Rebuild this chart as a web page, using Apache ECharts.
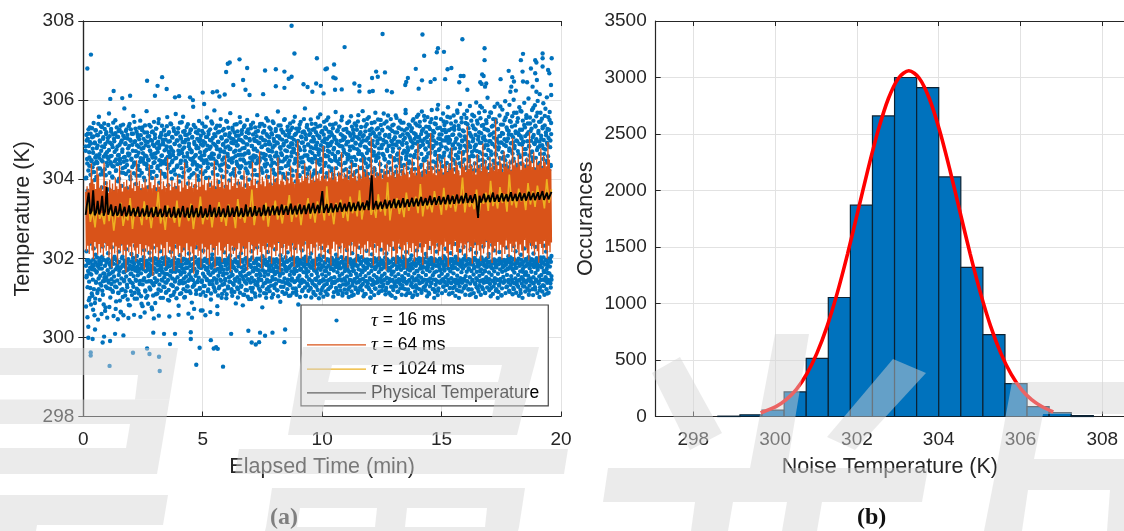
<!DOCTYPE html>
<html><head><meta charset="utf-8">
<style>html,body{margin:0;padding:0;background:#fff}#c{width:1124px;height:531px}</style>
<script src="https://cdn.jsdelivr.net/npm/echarts@6/dist/echarts.min.js"></script>
</head><body><div id="c"></div>
<script>
// ----- panel (a): temperatures are stored as hundredths of a kelvin above 298 K, in time order -----
const temps16 = [
672,381,604,352,698,395,640,327,715,368,622,388,684,341,655,300,731,376,611,392,
690,359,648,311,706,384,630,346,667,397,742,322,618,371,693,287,655,390,724,338,
606,364,679,402,641,318,711,379,627,349,758,393,663,295,695,356,612,385,734,331,
648,374,683,404,620,308,702,362,657,396,741,343,625,381,689,276,610,352,719,389,
668,325,634,370,704,398,651,339,766,361,616,384,692,301,643,377,727,347,659,393,
607,318,681,366,713,386,632,354,696,404,645,329,749,372,621,291,675,395,708,344,
638,380,660,313,722,358,601,391,687,336,652,375,735,263,617,349,698,400,669,322,
628,384,710,365,644,342,779,394,656,306,691,378,613,354,726,388,636,327,703,371,
665,398,620,282,684,345,740,382,607,360,697,317,649,392,715,373,631,337,672,401,
760,355,615,386,694,298,642,369,728,346,658,394,609,323,686,379,713,357,634,390,
667,311,701,374,623,343,748,396,653,362,690,285,616,383,731,334,645,372,679,403,
604,350,718,389,660,319,696,367,639,341,772,393,626,305,708,378,650,355,683,386,
737,326,612,399,671,368,699,342,631,381,719,271,655,361,688,394,619,332,745,375,
643,350,704,387,665,309,728,366,608,397,678,344,633,382,695,321,752,371,648,358,
686,391,621,300,711,377,659,346,735,400,614,364,692,328,640,385,723,352,673,394,
606,339,700,373,652,315,683,389,757,360,627,345,714,398,669,293,636,380,696,356,
741,368,618,333,675,392,707,349,647,384,661,308,729,375,624,401,689,341,612,366,
765,388,654,323,698,379,635,352,718,396,672,280,609,368,685,342,743,391,641,359,
703,312,628,384,666,374,694,337,758,399,617,349,680,365,722,302,646,387,699,354,
633,395,712,329,657,376,739,343,622,390,690,360,604,317,676,381,724,352,650,398,
668,288,705,369,637,345,783,386,615,332,694,374,643,403,731,356,661,310,684,392,
625,367,716,340,608,383,679,351,747,397,654,323,701,376,632,268,688,388,659,344,
722,394,613,361,696,330,641,380,733,354,670,399,620,305,707,372,648,348,756,389,
685,317,630,367,714,395,604,342,677,384,726,358,652,296,698,376,637,401,741,334,
618,364,690,387,663,350,774,320,628,392,709,369,645,346,682,399,735,279,611,373,
695,356,656,388,720,328,634,365,675,394,752,343,622,379,703,310,649,390,687,357,
606,371,727,335,668,396,640,348,713,382,696,299,619,362,745,387,658,324,683,400,
631,352,708,376,676,341,767,393,612,366,692,315,644,384,730,358,653,391,701,333,
625,375,718,347,609,398,672,286,695,369,739,389,638,352,686,322,661,380,710,404,
617,345,757,363,650,395,699,328,633,377,724,354,678,391,604,308,693,368,646,382,
736,341,665,399,627,356,705,374,688,319,750,393,615,347,671,385,716,297,642,362,
698,396,632,339,729,378,655,351,684,402,611,325,743,367,660,388,702,344,623,376,
677,303,719,392,640,358,696,371,762,331,648,384,610,349,691,399,733,362,654,318,
705,381,628,345,681,394,740,276,616,370,699,388,664,336,722,355,637,397,687,366,
649,311,754,383,620,346,710,391,675,359,606,327,695,378,731,400,658,342,688,368,
634,385,716,301,670,353,746,394,624,374,702,332,642,389,685,360,612,347,727,381,
659,398,693,319,638,365,771,376,650,344,708,393,617,356,681,290,736,384,666,371,
628,341,700,396,645,362,719,328,690,387,605,349,752,379,673,403,633,312,696,368,
656,391,724,345,614,374,683,335,707,395,647,358,741,306,625,382,691,367,668,349,
730,398,609,324,678,386,700,361,640,375,758,342,652,392,715,317,621,368,686,401,
663,350,697,283,634,383,729,356,610,396,674,339,745,372,643,388,706,346,655,320,
693,399,618,365,721,379,682,341,779,390,627,304,704,373,660,354,737,396,613,332,
688,367,651,385,712,347,630,402,670,325,751,376,696,358,607,391,643,336,725,381,
678,311,701,369,622,394,659,348,740,386,685,328,616,363,692,399,733,354,648,375,
668,299,708,387,637,342,764,371,652,395,719,320,625,359,696,382,604,347,680,404,
745,332,661,368,703,389,641,355,727,376,615,309,690,397,672,344,756,381,632,361,
708,392,649,326,686,373,719,350,620,398,695,337,664,385,738,303,611,369,679,352,
702,394,654,341,770,378,628,387,691,318,645,365,724,399,668,346,612,383,733,356,
684,329,697,375,636,391,749,344,659,361,710,312,622,396,675,380,702,349,641,368,
726,385,607,333,688,401,663,354,742,372,650,321,695,390,618,366,716,345,673,398,
630,358,759,384,644,305,699,377,683,340,725,393,611,369,656,347,708,387,636,326,
690,361,735,399,621,352,676,381,746,318,664,372,702,394,605,344,687,358,719,386,
648,331,694,403,629,365,772,348,657,380,711,397,620,310,682,371,733,355,640,389,
698,342,666,376,753,395,613,327,705,362,651,384,724,350,635,301,689,396,674,368,
742,379,618,345,697,388,660,334,716,357,628,400,683,373,768,323,646,391,708,352,
612,381,691,340,729,398,655,365,678,316,703,383,637,349,750,394,621,372,686,356,
725,328,664,390,699,344,607,377,741,361,650,402,712,319,632,385,693,351,675,396,
618,338,761,369,643,388,706,348,685,374,727,308,657,392,624,359,696,380,736,343,
670,399,613,366,701,329,648,384,718,354,688,395,632,341,755,373,662,315,695,389,
609,360,730,347,678,398,641,382,709,334,654,371,743,392,620,355,687,404,666,324,
699,376,636,349,723,387,604,363,775,396,651,340,691,378,715,312,628,393,674,358,
738,384,644,345,706,369,660,399,617,331,696,386,729,352,683,375,639,306,752,391,
658,362,702,344,625,397,714,381,671,349,690,325,736,368,612,388,653,356,707,400,
681,337,745,374,631,393,698,351,664,319,722,384,609,365,687,396,647,344,760,377,
702,329,620,390,675,358,733,402,656,371,694,345,616,382,711,313,640,396,683,367,
727,349,667,386,699,338,752,394,628,375,708,357,645,389,684,322,718,364,605,398,
662,346,739,381,692,367,634,342,777,393,651,318,703,385,620,355,676,399,730,372,
689,339,644,387,713,361,655,394,698,347,612,328,746,380,667,369,725,401,631,352,
680,385,706,333,641,396,758,358,616,374,692,342,724,389,658,311,699,367,636,393,
741,350,675,381,609,398,686,325,713,362,648,386,734,345,625,376,694,404,661,337,
703,391,619,356,768,372,653,344,688,397,727,317,640,383,679,350,710,392,632,365,
744,339,696,388,664,374,607,348,721,399,650,328,685,381,701,355,628,394,755,366,
672,342,739,386,614,321,693,375,646,397,717,352,681,389,633,309,708,368,659,392,
763,345,696,384,622,359,729,375,674,401,640,335,712,396,687,350,605,366,748,388,
657,323,700,379,631,394,719,356,668,342,785,385,616,372,692,398,735,327,649,361,
704,391,626,346,679,383,727,369,644,312,698,395,661,352,742,378,610,388,686,340,
723,403,653,364,696,347,636,380,769,392,670,325,714,358,620,386,689,374,735,343,
647,396,705,367,629,350,682,389,751,318,662,377,698,394,613,345,726,361,675,385,
640,331,709,399,654,372,784,348,693,387,622,306,717,366,668,395,738,353,634,380,
687,341,701,392,648,369,756,384,611,327,696,358,725,396,659,374,630,345,713,390,
678,315,747,379,642,402,691,355,619,388,733,340,665,371,706,397,652,322,768,364,
684,385,627,349,721,393,698,376,636,333,745,389,671,358,607,399,712,344,689,381,
656,367,773,312,640,396,703,352,725,384,618,373,694,347,663,391,737,329,676,358,
709,398,632,365,755,381,648,343,696,387,621,356,719,403,684,318,660,375,741,393,
605,349,697,366,728,384,670,338,646,395,780,352,712,378,625,390,689,327,735,363,
654,346,701,400,617,386,768,371,680,341,722,393,638,354,695,319,664,381,746,397,
710,358,629,377,686,346,733,389,651,402,699,330,614,365,760,384,675,352,718,396,
642,373,692,311,727,388,658,345,704,399,622,362,750,379,681,337,636,391,714,355
];
// second pass over the same span: the outer parts of the cloud, widening with time on the warm side
const temps16outer = [
683,278,712,356,651,251,702,389,726,294,668,362,694,325,715,283,646,377,729,305,
677,270,708,381,639,256,691,298,723,341,660,367,712,312,685,245,740,322,654,374,
698,336,719,391,672,259,732,318,645,342,706,283,681,351,727,267,663,329,714,394,
642,250,695,344,737,359,674,277,709,323,658,362,720,335,688,388,633,315,743,254,
702,341,669,399,716,272,650,327,731,385,683,246,707,312,661,368,725,293,640,265,
693,320,718,380,675,302,738,256,655,345,704,389,689,317,722,369,647,333,712,296,
678,249,734,374,664,281,700,340,726,362,652,307,687,391,715,328,636,257,745,313,
696,375,671,343,720,298,659,367,707,319,682,386,730,335,644,252,711,304,677,376,
724,279,666,345,702,393,639,263,736,316,686,300,658,381,718,371,694,285,648,342,
709,358,673,321,733,395,662,276,697,337,721,306,641,248,684,373,713,287,654,340,
728,368,691,311,669,397,742,255,679,334,706,382,637,318,717,374,660,344,700,300,
688,389,725,327,646,361,711,313,676,339,734,378,656,295,695,320,719,253,665,391,
681,305,739,384,643,366,705,330,670,392,722,315,690,346,653,370,714,299,631,324,
698,387,729,257,663,336,685,310,708,380,647,343,744,394,675,365,720,322,657,301,
693,339,712,375,638,317,732,388,666,329,701,260,683,345,716,397,651,312,726,383,
672,250,707,328,645,374,737,272,689,337,659,390,719,319,678,363,702,342,634,396,
724,378,696,325,668,308,710,384,649,340,741,268,685,314,716,393,661,330,692,256,
733,372,674,345,707,376,640,321,721,389,656,335,699,264,682,311,746,398,665,343,
704,382,652,327,714,370,687,316,729,394,644,338,676,259,718,306,694,324,660,385,
735,346,670,379,706,300,637,333,723,391,689,362,655,318,712,344,680,387,747,309,
698,373,664,329,730,397,648,341,716,384,677,355,703,322,642,305,725,337,691,378,
669,315,738,392,658,343,710,369,685,326,721,301,633,386,700,339,673,313,744,358,
662,331,715,395,696,281,650,347,732,308,679,372,707,320,640,336,719,390,688,303,
726,361,666,344,702,383,654,325,737,297,684,316,646,368,713,342,675,388,697,311,
731,334,658,375,709,399,671,340,722,384,643,323,692,306,740,357,665,345,705,379,
683,329,718,393,654,312,735,364,698,338,661,300,714,322,639,385,748,341,689,370,
706,317,672,395,727,331,650,383,713,346,680,309,742,366,696,325,658,392,722,336,
667,378,709,319,691,304,736,389,645,343,703,361,677,328,725,398,661,315,718,341,
686,384,750,310,652,371,711,337,697,393,671,322,733,346,641,305,716,376,682,332,
724,399,658,344,705,387,689,313,746,367,676,340,712,396,647,324,728,308,695,381,
663,345,721,391,680,330,738,302,654,374,708,338,692,317,719,385,643,342,752,397,
673,326,714,305,701,363,732,336,660,394,687,318,725,346,648,380,716,323,681,301,
740,342,666,389,707,315,695,372,728,332,652,307,719,345,677,396,711,320,756,384,
662,337,704,399,735,311,686,342,647,378,722,326,673,303,713,344,694,390,731,316,
658,367,749,335,702,308,683,322,720,395,669,346,738,383,691,329,646,401,712,340,
729,393,675,314,707,338,659,382,741,325,698,399,721,344,668,310,687,375,733,331,
651,319,714,346,683,390,758,306,699,334,725,385,668,321,706,343,642,396,727,312,
694,378,719,337,661,302,746,327,682,345,710,389,655,316,733,332,701,368,716,308,
678,344,741,395,692,322,649,338,725,381,706,313,762,340,671,399,714,326,685,346,
732,391,663,319,708,335,698,304,749,376,652,343,721,310,680,329,739,397,703,337,
674,385,757,322,691,346,713,300,646,315,728,333,687,392,719,341,669,307,744,324,
708,378,660,338,726,396,697,344,751,312,665,387,715,329,703,373,737,340,679,318,
723,394,688,333,766,383,652,346,710,309,695,325,746,398,671,337,731,376,684,313,
712,342,659,391,752,328,697,305,722,345,678,320,738,386,653,336,706,300,761,329,
686,343,718,379,665,316,730,339,695,397,748,324,650,345,726,308,691,331,713,384,
743,341,672,398,704,322,767,307,658,336,728,385,681,321,712,343,645,396,735,312,
699,378,722,337,680,302,748,327,691,345,716,389,662,316,741,332,708,368,758,308,
672,344,763,395,705,322,734,338,684,381,714,313,771,340,696,399,727,326,652,346,
749,391,678,319,718,335,706,304,757,376,665,343,732,310,689,329,744,397,712,337,
775,385,683,322,722,346,698,300,741,315,669,333,755,392,690,341,729,307,788,324,
674,378,713,338,702,396,752,344,683,312,724,387,766,329,659,373,737,340,698,318,
719,394,744,333,675,383,782,346,707,309,693,325,756,398,666,337,728,376,712,313,
688,342,761,391,725,328,678,305,746,345,702,320,774,386,657,336,735,300,713,329,
790,343,684,379,755,316,698,339,723,397,669,324,764,345,708,308,742,331,681,384,
773,341,694,398,729,322,656,307,785,336,712,385,748,321,669,343,736,396,702,312,
759,378,683,337,726,302,794,327,671,345,741,389,708,316,768,332,692,368,754,308,
716,344,781,395,663,322,737,338,701,381,772,313,686,340,749,399,725,326,806,346,
674,391,758,319,711,335,696,304,768,376,733,343,689,310,752,329,718,397,783,337,
665,385,744,322,702,346,791,300,727,315,681,333,761,392,709,341,738,307,692,324,
776,378,715,338,656,396,749,344,797,312,684,387,731,329,765,373,703,340,722,318,
788,394,673,333,745,383,712,346,759,309,693,325,801,398,678,337,736,376,717,313,
768,342,696,391,754,328,663,305,782,345,725,320,709,386,771,336,687,300,748,329,
695,343,793,379,731,316,676,339,762,397,714,324,741,345,804,308,683,331,756,384,
722,341,668,398,775,322,706,307,748,336,691,385,787,321,733,343,759,396,674,312,
798,378,717,337,745,302,684,327,768,345,702,389,753,316,729,332,792,368,664,308,
736,344,778,395,711,322,807,338,687,381,757,313,725,340,770,399,698,326,742,346
];
// third pass: points hugging the orange band on both sides
const temps16inner = [
602,418,571,395,634,437,586,372,618,425,598,409,645,384,563,446,627,401,579,430,
612,361,590,442,656,413,574,388,639,428,604,399,568,450,623,376,595,417,648,437,
583,404,616,365,631,423,577,391,660,445,600,411,566,379,642,432,588,406,625,369,
609,448,572,395,652,421,597,385,636,439,580,414,619,374,603,427,664,400,575,443,
628,389,591,418,646,367,569,435,613,403,638,382,585,449,656,416,601,393,622,430,
578,372,633,441,594,408,668,384,606,425,573,397,642,451,589,412,625,368,611,437,
654,402,582,428,636,389,598,445,618,376,570,419,647,434,603,395,629,362,586,440,
660,410,614,426,577,385,640,447,593,399,624,373,607,431,670,415,581,392,633,443,
597,407,652,378,616,424,574,438,644,390,589,453,628,413,605,367,662,429,584,401,
620,446,599,383,638,418,578,436,655,394,611,428,592,370,647,449,623,405,570,387,
632,433,606,416,672,376,587,441,641,397,615,423,596,366,657,444,628,408,580,431,
613,389,650,452,600,415,636,379,573,437,622,402,668,426,594,391,644,447,608,371,
585,420,630,439,660,404,601,385,624,448,576,412,651,394,614,432,592,368,642,454,
675,407,619,426,588,380,634,442,606,397,658,418,582,436,627,373,600,450,648,409,
574,388,639,429,611,403,683,445,596,376,625,421,654,392,604,437,578,413,636,382,
618,452,592,406,665,427,628,369,586,441,645,395,610,419,631,385,599,448,672,410,
582,431,622,374,653,443,607,400,638,422,590,386,660,455,615,412,575,393,642,435,
627,367,688,424,601,446,619,403,649,378,584,428,633,391,612,451,596,416,667,372,
640,439,578,407,625,385,656,449,604,420,694,396,589,433,636,376,617,444,648,411,
572,389,629,426,608,401,678,453,594,382,642,417,620,434,659,369,586,447,633,405,
611,424,700,392,598,440,625,413,651,375,580,436,639,399,614,456,668,419,603,384,
644,429,589,407,630,445,617,372,684,423,596,391,658,438,622,414,575,380,648,452,
606,402,636,430,708,367,585,446,628,411,613,389,662,434,599,420,641,378,574,457,
692,416,620,395,652,441,607,383,634,427,588,405,672,449,616,374,646,431,597,418,
627,388,716,443,580,409,639,366,610,425,664,396,602,454,632,384,585,436,655,412,
619,429,696,378,594,445,641,402,624,390,678,432,608,417,647,363,586,451,633,406
];
const temps64 = [
568,418,582,432,574,411,590,437,640,420,600,398,588,441,575,425,630,409,612,436,
578,414,585,428,571,405,642,439,583,419,595,431,566,402,598,423,576,376,589,440,
572,412,604,430,582,385,575,426,634,417,587,435,569,408,593,421,580,364,598,434,
574,415,586,429,622,403,577,438,591,420,570,392,648,427,583,411,596,436,573,407,
588,424,579,372,601,433,584,416,575,430,638,400,592,422,577,356,585,437,606,413,
570,428,589,396,581,419,624,435,574,406,595,426,583,380,578,441,654,414,587,429,
572,402,598,418,580,368,591,436,576,423,610,409,584,432,569,388,596,415,579,427,
642,404,586,438,575,420,600,395,582,430,592,412,578,361,588,425,616,433,574,406,
594,419,581,377,628,437,586,410,598,428,572,400,590,422,604,384,579,435,596,416,
584,426,646,374,575,431,602,408,588,440,580,420,611,390,593,414,577,429,660,402,
585,436,597,418,574,366,606,432,583,411,590,427,631,399,578,423,600,438,587,381,
594,415,581,430,622,405,576,425,609,370,590,441,583,412,598,434,644,394,585,420,
601,429,578,408,592,437,670,416,587,375,606,431,595,422,582,401,613,439,599,413,
590,428,628,386,584,424,608,434,592,406,603,419,655,441,587,365,597,427,611,410,
594,436,586,397,620,423,601,432,590,417,634,403,605,438,593,378,588,426,616,412,
698,435,600,421,592,399,608,430,596,418,640,443,603,388,611,425,590,407,622,436,
598,414,606,428,594,372,650,440,602,420,615,431,597,404,609,437,684,416,600,392,
612,427,595,433,625,410,604,382,618,424,599,442,632,418,607,435,594,401,620,429,
610,413,668,438,601,396,616,426,605,420,628,376,598,433,612,407,642,441,603,416,
622,430,608,389,596,424,636,437,614,411,602,427,655,399,619,434,606,418,625,443,
610,405,600,428,706,421,612,381,632,438,604,414,618,431,609,395,648,426,615,440,
601,408,626,420,612,369,640,435,606,417,623,429,610,402,660,443,617,423,604,386,
630,412,614,437,676,428,608,398,622,420,635,433,612,375,644,441,618,409,605,426,
628,416,653,438,616,392,624,431,610,403,690,424,633,440,619,414,606,383,642,428,
626,436,613,400,650,422,621,444,716,411,630,432,615,389,637,425,610,439,664,407,
620,418,645,434,627,396,612,429,655,442,633,413,618,378,640,436,624,421,680,405,
629,431,614,444,648,416,636,391,622,427,610,438,672,408,631,423,640,435,618,399,
734,442,626,415,652,430,634,386,621,426,645,440,612,404,664,433,628,419,638,393,
620,436,690,412,633,429,647,444,625,401,616,424,656,438,630,388,642,417,622,431,
752,408,636,441,626,420,658,434,640,397,618,428,670,411,632,445,644,425,627,403,
650,437,622,416,704,430,635,392,648,442,630,422,662,409,638,435,624,419,683,400,
641,446,629,427,655,413,634,395,720,438,646,423,631,431,668,407,624,442,652,418,
636,389,640,436,678,426,628,410,660,444,643,421,633,399,694,432,650,415,626,440
];
const temps1024 = [
510,548,492,520,478,536,500,514,486,562,494,528,470,518,504,540,482,512,496,552,
474,526,508,516,484,544,498,522,476,530,506,568,488,518,472,534,502,512,490,546,
480,524,510,516,494,538,474,520,504,556,486,514,498,532,478,526,508,542,492,518,
482,536,512,522,476,550,500,516,490,530,506,574,484,524,514,520,496,540,480,528,
510,546,498,522,488,534,516,560,492,526,504,538,484,530,518,552,500,528,490,544,
512,534,496,582,508,532,486,540,520,548,502,530,494,556,514,538,506,572,498,536,
524,546,510,534,502,562,518,540,508,592,496,542,526,552,512,538,504,566,520,544,
530,556,514,588,506,548,524,540,516,570,534,550,510,578,522,546,528,560,518,552,
536,604,516,558,530,546,524,574,512,552,538,566,520,596,532,554,526,580,540,562,
518,612,534,558,528,576,544,564,522,590,536,570,530,584,548,568,526,600,540,574
];
// physical temperature: comb of base, shoulder and peak per cycle
const tempsPhys = [
510,540,566,512,520,572,509,516,545,511,523,558,508,519,580,510,514,536,507,513,532,508,515,538,
507,512,530,506,514,534,507,512,527,506,511,530,505,510,526,506,513,534,505,510,528,504,511,530,
505,510,525,504,512,533,505,509,527,504,510,530,503,511,526,504,509,532,504,510,528,503,512,534,
504,509,527,504,511,531,503,510,526,504,512,535,505,510,528,504,511,530,505,509,526,504,512,533,
505,511,528,505,510,531,506,512,527,505,513,536,506,511,529,506,512,532,507,511,528,507,514,535,
508,512,530,508,513,533,509,513,531,509,514,536,510,515,532,510,514,538,511,516,533,511,515,536,
512,517,534,512,516,538,513,518,540,514,517,535,514,519,570,515,518,537,515,520,539,516,519,536,
517,521,541,518,520,538,519,522,542,519,521,540,520,523,543,521,522,541,522,525,546,522,524,610,
523,526,545,524,525,543,525,527,548,526,527,546,527,529,550,527,528,547,528,531,552,529,530,549,
530,532,553,531,532,551,532,534,555,533,534,552,534,536,558,535,536,554,535,537,557,536,538,555,
537,538,560,537,539,558,538,540,561,539,540,558,539,541,565,540,541,559,540,542,562,541,502,558,
541,543,563,542,543,560,542,544,566,543,544,561,543,545,564,544,545,562,544,546,567,545,546,563,
545,547,566,546,547,564,546,548,568,547,548,565,547,549,567,548,549,570,548,550,566,549,550,568
];
// sparse points read one by one outside the dense band
const outlierTimes = [
.17,.32,1.13,1.27,1.63,1.96,2.67,3.00,3.11,3.30,3.49,3.84,4.01,4.47,4.59,5.00,5.06,5.42,5.60,5.70,5.92,5.98,6.05,6.13,6.28,6.54,6.69,6.79,6.86,6.96,
7.53,7.61,8.06,8.06,8.42,8.42,8.60,8.72,8.72,8.84,9.22,9.39,9.59,9.75,9.78,9.94,10.06,10.14,10.20,10.50,10.47,10.56,10.54,10.82,10.94,11.35,11.56,11.56,11.98,12.12,
12.09,12.26,12.33,12.63,12.53,12.71,12.92,13.48,13.52,13.59,13.92,14.04,14.18,14.20,14.27,14.54,14.71,14.80,14.85,15.10,15.15,15.25,15.41,15.74,15.80,15.92,15.87,16.08,16.62,16.70,
16.76,16.80,16.80,16.68,16.87,16.82,17.47,17.81,17.96,18.03,17.92,18.11,17.88,18.32,18.41,18.39,18.41,18.58,18.74,18.92,18.97,18.92,18.99,18.81,18.97,19.11,19.23,19.23,19.23,19.46,
19.51,19.58,19.61,19.59,
.31,.31,1.10,2.08,2.67,2.77,3.17,3.20,4.87,4.73,5.85,5.46,5.56,5.63,3.63,7.05,7.22,7.36,8.42,.21,.39,.81,.87,1.12,1.33,1.68,.21,.49,2.93,3.38,3.84,4.50,4.50,5.34,6.19,6.91,7.40,7.61,7.92,8.45
];
const outlierTemps = [
306.80,307.15,306.03,306.23,306.05,306.11,306.49,306.11,306.36,306.58,306.28,306.07,306.10,306.07,306.00,306.19,305.90,306.20,306.22,306.09,306.14,306.71,306.92,306.95,306.38,307.03,306.51,306.26,306.81,306.13,
306.15,306.75,306.78,306.35,306.72,306.31,306.54,306.59,307.88,307.18,306.40,306.33,306.21,306.42,307.06,306.36,306.17,306.78,306.80,306.90,306.57,306.55,306.26,306.27,307.34,306.42,306.36,306.22,306.21,306.23,
306.56,306.72,306.59,306.70,307.67,306.24,306.20,306.38,306.46,306.56,306.79,306.29,306.50,307.66,307.12,306.46,306.53,307.21,307.31,307.22,306.53,306.78,306.81,306.45,306.61,306.61,307.54,306.26,306.45,306.65,
306.61,307.31,307.01,306.41,306.42,306.34,306.53,306.74,306.58,306.47,306.34,306.24,306.21,307.01,307.17,306.72,306.47,306.45,306.80,307.01,306.95,306.68,306.51,306.34,306.21,306.15,307.18,307.06,306.85,306.76,
306.68,306.38,307.06,306.13,
299.62,299.54,299.28,299.61,299.72,299.58,299.51,299.15,299.74,299.31,299.26,299.72,299.75,299.71,299.83,299.87,299.82,299.88,299.88,299.99,299.96,299.87,300.02,299.91,300.09,300.05,300.27,300.20,300.12,300.09,300.09,299.96,300.13,299.93,300.09,300.17,300.12,300.04,300.12,300.20
];
const timeStart = 0.1, timeEnd = 19.6;
const seriesNames = ['τ = 16 ms','τ = 64 ms','τ = 1024 ms','Physical Temperature'];
const timeTicks = [0,5,10,15,20];
// ----- panel (b) -----
const binEdges = [298.6,299.14,299.68,300.22,300.76,301.3,301.84,302.38,302.92,303.46,304,304.54,305.08,305.62,306.16,306.7,307.24,307.78];
const binCounts = [3,15,56,218,515,1053,1870,2660,3000,2910,2120,1320,725,291,88,35,8];
const fitTemps  = [299.65,299.77,300.02,300.27,300.52,300.77,301.02,301.27,301.52,301.77,302.02,302.27,302.52,302.77,303.02,303.27,303.52,303.77,304.02,304.27,304.52,304.77,305.02,305.27,305.52,305.77,306.02,306.27,306.52,306.8];
const fitCounts = [32,50,88,149,241,375,559,798,1094,1437,1811,2187,2533,2814,2996,3060,2996,2814,2533,2187,1811,1437,1094,798,559,375,241,149,88,40];
const noiseTicks = [298,300,302,304,306,308];

const wm = [
[[0,348],[178,348],[173.5,375],[0,375]],[[138,375],[173.5,375],[169.5,399.5],[135,399.5]],[[0,399.5],[169.5,399.5],[165.5,424],[0,424]],
[[130,424],[165.5,424],[161.5,448],[126,448]],[[0,448],[161.5,448],[157,474],[0,474]],[[0,495],[168,495],[163,525],[37,525],[36,531],[0,531]],
[[303,347],[539,347],[534.5,365],[300,365]],[[300,365],[332,365],[328,382],[297,382]],[[502,365],[534.5,365],[530,382],[498,382]],
[[297,382],[530,382],[526,400],[294,400]],[[294,400],[325,400],[322,417],[291,417]],[[495,400],[526,400],[521.5,417],[492,417]],[[291,417],[521.5,417],[517,435],[288,435]],
[[239,449],[568,449],[564,474],[235,474]],[[272,488],[525,488],[522,508],[269,508]],[[269,508],[300,508],[297,527],[266,527]],[[377,508],[407,508],[405,527],[375,527]],
[[487,508],[522,508],[519,527],[485,527]],[[266,527],[519,527],[518,531],[265,531]],
[[652,373],[680,357],[722,433],[690,450]],[[775,334],[809,334],[787,468],[750,468]],[[608,468],[928,468],[922,502],[603,502]],
[[695,502],[733,502],[728,531],[691,531]],[[787,502],[822,502],[817,531],[782,531]],[[893,359],[926,373],[855,450],[827,437]],
[[1012,382],[1124,382],[1124,414],[1006,414]],[[1006,414],[1043,414],[1034,459],[998,459]],[[998,459],[1124,459],[1124,490],[992,490]],
[[992,490],[1028,490],[1022,531],[984,531]],[[1110,490],[1124,490],[1124,531],[1107,531]]
];

const toK = v => 298 + v / 100;
const timed = arr => arr.map((v, i) => [timeStart + (timeEnd - timeStart) * i / (arr.length - 1), toK(v)]);
const dots = timed(temps16).concat(timed(temps16outer), timed(temps16inner), outlierTimes.map((t, i) => [t, outlierTemps[i]]));
const bars = binCounts.map((c, i) => [binEdges[i], binEdges[i + 1], c]);
const fit = fitTemps.map((t, i) => [t, fitCounts[i]]);

const ink = '#262626', gridC = '#e2e2e2', sans = '"Liberation Sans", Arial, sans-serif';
const tickLab = {color: ink, fontSize: 19, fontFamily: sans};
const yLab = Object.assign({margin: 9, padding: [5, 0, 0, 0], formatter: v => String(v)}, tickLab);
const nameSty = {color: '#262626', fontSize: 21.5, fontFamily: sans};
const lineC = {lineStyle: {color: ink, width: 1.2}};
const tick = {inside: true, length: 5, lineStyle: {color: ink, width: 1}};
const lineIcon = 'path://M0 0M59 14M0 6.4L59 6.4L59 7.6L0 7.6z';
const noStream = {progressive: 0, progressiveThreshold: 1e7, silent: true};

const chart = echarts.init(document.getElementById('c'), null, {renderer: 'canvas'});
chart.setOption({
  animation: false,
  backgroundColor: '#fff',
  title: [
    {text: '{r|(}{b|a}{r|)}', left: 270, top: 506, padding: 0, textStyle: {rich: {r: {fontFamily: '"Liberation Serif"', fontSize: 24, color: '#333'}, b: {fontFamily: '"Liberation Serif"', fontWeight: 'bold', fontSize: 24, color: '#333'}}}},
    {text: '{r|(}{b|b}{r|)}', left: 857, top: 506, padding: 0, textStyle: {rich: {r: {fontFamily: '"Liberation Serif"', fontSize: 24, color: '#111'}, b: {fontFamily: '"Liberation Serif"', fontWeight: 'bold', fontSize: 24, color: '#111'}}}}
  ],
  grid: [
    {left: 83.3, top: 21, width: 477.7, height: 395.5},
    {left: 655.7, top: 21, right: 0, height: 395.5}
  ],
  xAxis: [
    {type: 'value', gridIndex: 0, min: 0, max: 20, interval: 5, position: 'bottom', name: 'Elapsed Time (min)', nameLocation: 'middle', nameGap: 40, nameTextStyle: nameSty,
     axisLine: lineC, axisTick: tick, axisLabel: Object.assign({margin: 14, formatter: v => timeTicks.includes(v) ? String(v) : ''}, tickLab), splitLine: {show: true, lineStyle: {color: gridC}}},
    {type: 'value', gridIndex: 0, min: 0, max: 20, interval: 5, position: 'top', axisLine: lineC, axisTick: tick, axisLabel: {show: false}, splitLine: {show: false}},
    {type: 'value', gridIndex: 1, min: 297.08, max: 308.53, position: 'bottom', name: 'Noise Temperature (K)', nameLocation: 'middle', nameGap: 40, nameTextStyle: nameSty,
     axisLine: lineC, axisTick: Object.assign({customValues: noiseTicks}, tick), axisLabel: Object.assign({margin: 14, customValues: noiseTicks, formatter: v => String(v)}, tickLab), splitLine: {show: true, lineStyle: {color: gridC}}},
    {type: 'value', gridIndex: 1, min: 297.08, max: 308.53, position: 'top', axisLine: lineC, axisTick: Object.assign({customValues: noiseTicks}, tick), axisLabel: {show: false}, splitLine: {show: false}}
  ],
  yAxis: [
    {type: 'value', gridIndex: 0, min: 298, max: 308, interval: 2, position: 'left', name: 'Temperature (K)', nameLocation: 'middle', nameGap: 49, nameTextStyle: nameSty,
     axisLine: lineC, axisTick: tick, axisLabel: yLab, splitLine: {show: true, lineStyle: {color: gridC}}},
    {type: 'value', gridIndex: 0, min: 298, max: 308, interval: 2, position: 'right', axisLine: lineC, axisTick: tick, axisLabel: {show: false}, splitLine: {show: false}},
    {type: 'value', gridIndex: 1, min: 0, max: 3500, interval: 500, position: 'left', name: 'Occurances', nameLocation: 'middle', nameGap: 59, nameTextStyle: nameSty,
     axisLine: lineC, axisTick: tick, axisLabel: yLab, splitLine: {show: true, lineStyle: {color: gridC}}}
  ],
  legend: {
    left: 301, top: 305, orient: 'vertical', align: 'left', itemWidth: 59, itemHeight: 14, itemGap: 5.3,
    padding: [6, 9, 4, 6], backgroundColor: '#fff', borderColor: '#444', borderWidth: 1.2, selectedMode: false,
    textStyle: {color: '#000', fontSize: 17.5, lineHeight: 14, fontFamily: sans, rich: {t: {fontFamily: '"Liberation Serif"', fontStyle: 'italic', fontSize: 19, lineHeight: 14, color: '#000'}}},
    formatter: n => n.replace('τ', '{t|τ}'),
    data: [
      {name: seriesNames[0], icon: 'path://M0 0M59 14M27.4 7a2.1 2.1 0 1 0 4.2 0a2.1 2.1 0 1 0 -4.2 0z'},
      {name: seriesNames[1], icon: lineIcon}, {name: seriesNames[2], icon: lineIcon}, {name: seriesNames[3], icon: lineIcon}
    ]
  },
  graphic: wm.map(p => ({type: 'polygon', zlevel: 5, z: 1000, silent: true, shape: {points: p}, style: {fill: 'rgba(213,213,213,0.47)'}})),
  series: [
    Object.assign({name: seriesNames[0], type: 'scatter', xAxisIndex: 0, yAxisIndex: 0, data: dots, symbol: 'circle', symbolSize: 4.4, itemStyle: {color: '#0072BD', opacity: 1}, z: 2}, noStream),
    Object.assign({name: seriesNames[1], type: 'line', xAxisIndex: 0, yAxisIndex: 0, data: timed(temps64), symbol: 'none', showSymbol: false, lineStyle: {color: '#D95319', width: 1.3}, itemStyle: {color: '#D95319'}, z: 3}, noStream),
    Object.assign({name: seriesNames[2], type: 'line', xAxisIndex: 0, yAxisIndex: 0, data: timed(temps1024), symbol: 'none', showSymbol: false, lineStyle: {color: '#EDB120', width: 1.6}, itemStyle: {color: '#EDB120'}, z: 4}, noStream),
    Object.assign({name: seriesNames[3], type: 'line', xAxisIndex: 0, yAxisIndex: 0, data: timed(tempsPhys), symbol: 'none', showSymbol: false, lineStyle: {color: '#000', width: 1.9}, itemStyle: {color: '#000'}, z: 5}, noStream),
    {type: 'custom', xAxisIndex: 2, yAxisIndex: 2, data: bars, encode: {x: [0, 1], y: 2}, silent: true, z: 2,
     renderItem: (p, api) => {
       const a = api.coord([api.value(0), api.value(2)]), b = api.coord([api.value(1), 0]);
       return {type: 'rect', shape: {x: a[0], y: a[1], width: b[0] - a[0], height: b[1] - a[1]}, style: {fill: '#0072BD', stroke: '#0c2233', lineWidth: 1.2}};
     }},
    {type: 'line', xAxisIndex: 2, yAxisIndex: 2, data: fit, smooth: 0.3, symbol: 'none', showSymbol: false, lineStyle: {color: '#FF0000', width: 3.6}, itemStyle: {color: '#f00'}, silent: true, z: 6}
  ]
});
</script></body></html>
